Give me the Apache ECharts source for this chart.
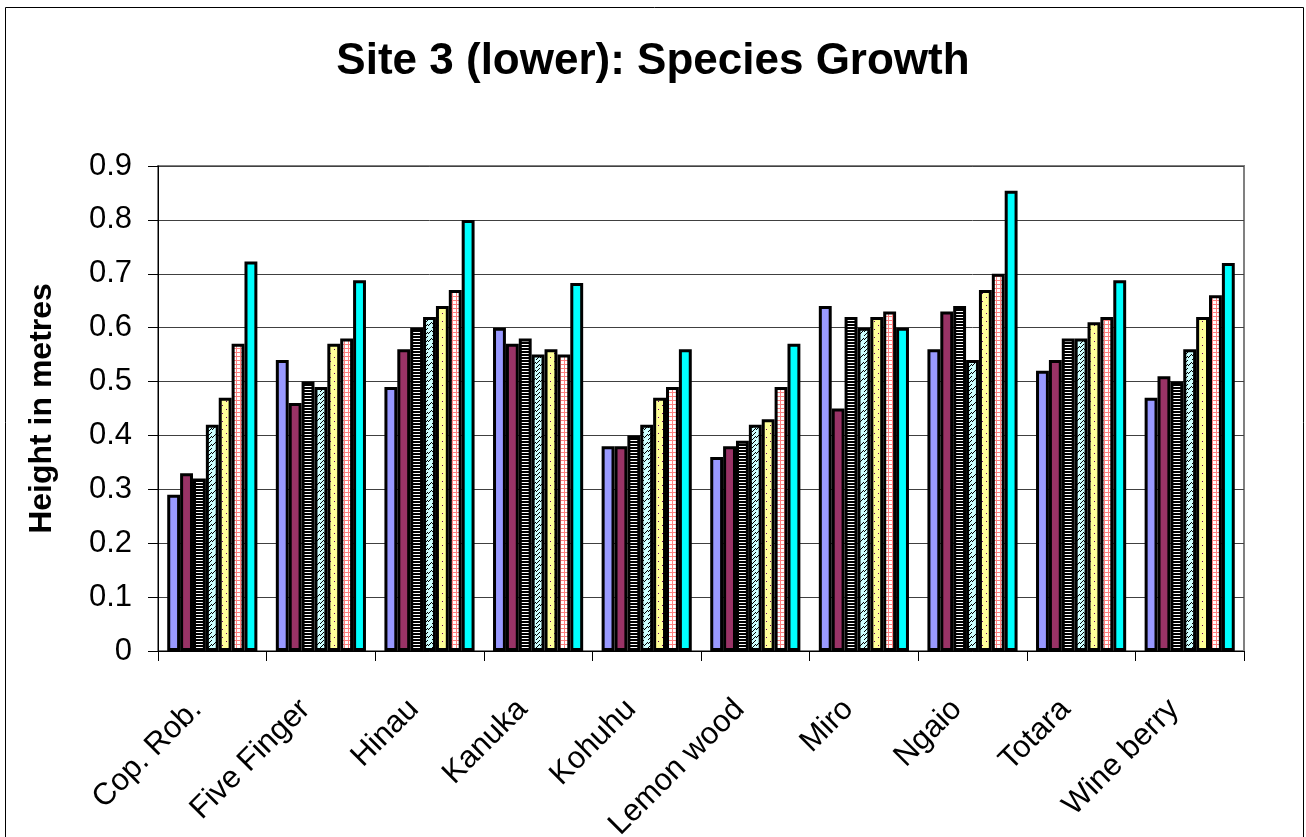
<!DOCTYPE html>
<html>
<head>
<meta charset="utf-8">
<script src="https://cdn.jsdelivr.net/npm/echarts@6/dist/echarts.min.js"></script>
<style>
html,body{margin:0;padding:0;background:#fff;}
#chart{width:1306px;height:837px;}
</style>
</head>
<body>
<div id="chart"></div>
<script>
const categories = ['Cop. Rob.', 'Five Finger', 'Hinau', 'Kanuka', 'Kohuhu', 'Lemon wood', 'Miro', 'Ngaio', 'Totara', 'Wine berry'];
const series1 = [0.29, 0.54, 0.49, 0.60, 0.38, 0.36, 0.64, 0.56, 0.52, 0.47];
const series2 = [0.33, 0.46, 0.56, 0.57, 0.38, 0.38, 0.45, 0.63, 0.54, 0.51];
const series3 = [0.32, 0.50, 0.60, 0.58, 0.40, 0.39, 0.62, 0.64, 0.58, 0.50];
const series4 = [0.42, 0.49, 0.62, 0.55, 0.42, 0.42, 0.60, 0.54, 0.58, 0.56];
const series5 = [0.47, 0.57, 0.64, 0.56, 0.47, 0.43, 0.62, 0.67, 0.61, 0.62];
const series6 = [0.57, 0.58, 0.67, 0.55, 0.49, 0.49, 0.63, 0.70, 0.62, 0.66];
const series7 = [0.723, 0.688, 0.80, 0.683, 0.56, 0.57, 0.60, 0.854, 0.688, 0.72];
const yTicks = ['0', '0.1', '0.2', '0.3', '0.4', '0.5', '0.6', '0.7', '0.8', '0.9'];

function makeCanvas(w, h, draw) {
  const c = document.createElement('canvas');
  c.width = w; c.height = h;
  const ctx = c.getContext('2d');
  draw(ctx);
  return { image: c, repeat: 'repeat' };
}
const stripes = makeCanvas(4, 3, ctx => {
  ctx.fillStyle = '#ffffff'; ctx.fillRect(0, 0, 4, 3);
  ctx.fillStyle = '#000000'; ctx.fillRect(0, 0, 4, 2);
});
const zigzag = makeCanvas(8, 8, ctx => {
  ctx.fillStyle = '#CCFFFF'; ctx.fillRect(0, 0, 8, 8);
  ctx.fillStyle = '#000000';
  const pts = [[0,7],[1,6],[2,5],[3,4],[4,5],[5,4],[6,3],[7,2],[0,3],[1,2],[2,1],[3,0]];
  pts.forEach(p => ctx.fillRect(p[0], p[1], 1, 1));
});
const dots = makeCanvas(8, 8, ctx => {
  ctx.fillStyle = '#FFFF99'; ctx.fillRect(0, 0, 8, 8);
  ctx.fillStyle = '#660066';
  ctx.fillRect(2, 1, 1, 1);
  ctx.fillRect(6, 5, 1, 1);
});
const grid = makeCanvas(4, 4, ctx => {
  ctx.fillStyle = '#ffffff'; ctx.fillRect(0, 0, 4, 4);
  ctx.fillStyle = '#FF8080';
  ctx.fillRect(0, 0, 4, 1);
  ctx.fillRect(0, 0, 1, 4);
});

const fills = ['#9999FF', '#993366', stripes, zigzag, dots, grid, '#00FFFF'];
const allSeries = [series1, series2, series3, series4, series5, series6, series7];
const names = ['Series 1', 'Series 2', 'Series 3', 'Series 4', 'Series 5', 'Series 6', 'Series 7'];

const chart = echarts.init(document.getElementById('chart'), null, { renderer: 'canvas' });
const font = '"Liberation Sans", Arial, sans-serif';
chart.setOption({
  animation: false,
  backgroundColor: '#ffffff',
  title: {
    text: 'Site 3 (lower): Species Growth',
    left: 'center',
    top: 35,
    textStyle: { fontFamily: font, fontSize: 44, fontWeight: 'bold', color: '#000' }
  },
  graphic: [{
    type: 'rect',
    shape: { x: 5.5, y: 7.5, width: 1298, height: 840 },
    style: { fill: 'none', stroke: '#000', lineWidth: 1 },
    silent: true, z: 100
  }],
  grid: {
    left: 158, right: 62, top: 166, bottom: 186,
    outerBoundsMode: 'none',
    containLabel: false,
    show: true, borderColor: '#808080', borderWidth: 2, backgroundColor: 'transparent'
  },
  xAxis: {
    type: 'category',
    data: categories,
    axisLine: { lineStyle: { color: '#000', width: 1 } },
    axisTick: { show: true, length: 10, lineStyle: { color: '#000' } },
    axisLabel: {
      rotate: 45, interval: 0, margin: 38, padding: [0, 22, 0, 0],
      fontFamily: font, fontSize: 31, color: '#000', hideOverlap: false
    },
    splitLine: { show: false }
  },
  yAxis: {
    type: 'value',
    min: 0, max: 0.9, interval: 0.1,
    name: 'Height in metres',
    nameLocation: 'middle',
    nameGap: 100,
    nameRotate: 90,
    nameTextStyle: { fontFamily: font, fontSize: 32, fontWeight: 'bold', color: '#000' },
    axisLine: { show: true, lineStyle: { color: '#000', width: 1 } },
    axisTick: { show: true, length: 10, lineStyle: { color: '#000' } },
    axisLabel: {
      margin: 26, fontFamily: font, fontSize: 31, color: '#000',
      formatter: (v) => yTicks[Math.round(v * 10)]
    },
    splitLine: { show: true, lineStyle: { color: '#404040', width: 1 } }
  },
  series: allSeries.map((d, i) => ({
    type: 'bar',
    name: names[i],
    data: d,
    barGap: '0%',
    barCategoryGap: '17%',
    itemStyle: { color: fills[i], borderColor: '#000', borderWidth: 3 }
  }))
});
</script>
</body>
</html>
